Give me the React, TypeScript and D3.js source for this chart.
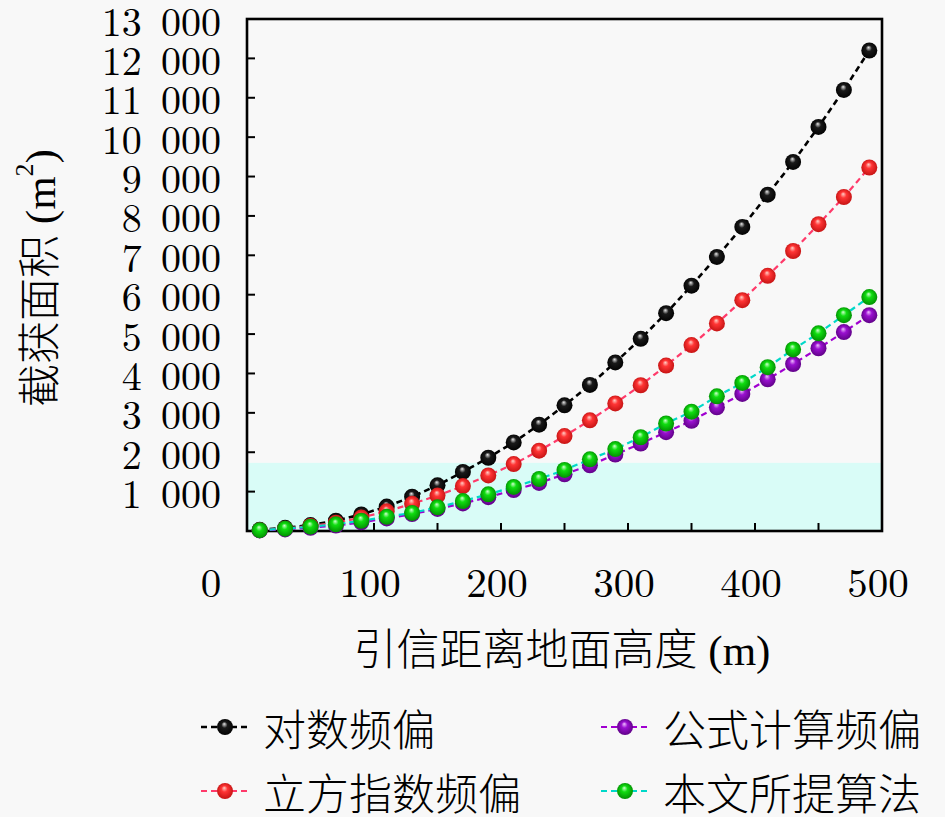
import React from "react";
import * as d3 from "d3";

const heights = [10, 30, 50, 70, 90, 110, 130, 150, 170, 190, 210, 230, 250, 270, 290, 310, 330, 350, 370, 390, 410, 430, 450, 470, 490];
const logFreq = [30, 80, 150, 260, 420, 620, 870, 1160, 1500, 1860, 2250, 2700, 3190, 3710, 4280, 4880, 5530, 6230, 6960, 7720, 8540, 9370, 10260, 11200, 12200];
const cubicFreq = [20, 60, 130, 210, 340, 500, 690, 900, 1140, 1410, 1700, 2040, 2410, 2810, 3240, 3700, 4200, 4720, 5270, 5860, 6480, 7110, 7790, 8480, 9230];
const formulaFreq = [15, 40, 80, 140, 220, 320, 430, 560, 700, 860, 1040, 1220, 1440, 1670, 1940, 2220, 2510, 2800, 3140, 3480, 3850, 4240, 4640, 5050, 5480];
const proposed = [20, 60, 110, 170, 260, 360, 460, 600, 760, 930, 1120, 1320, 1550, 1820, 2080, 2380, 2730, 3030, 3420, 3760, 4160, 4610, 5020, 5480, 5940];
const seriesNames = ["对数频偏", "立方指数频偏", "公式计算频偏", "本文所提算法"];
const xTickLabels = [0, 100, 200, 300, 400, 500];
const xMinorTicks = [50, 100, 150, 200, 250, 300, 350, 400, 450];
const yTicks = [1000, 2000, 3000, 4000, 5000, 6000, 7000, 8000, 9000, 10000, 11000, 12000, 13000];
const bandTop = 1730;

const W = 945, H = 817;
const L = 247, R = 882, T = 19, B = 531;
const serif = "'Latin Modern Roman', 'Liberation Serif', 'DejaVu Serif', serif";
const mixed = "'Liberation Serif', 'Noto Sans CJK SC', serif";
const cjk = "'Noto Sans CJK SC', sans-serif";

const styles = [
  { line: "#000000", base: "#1a1a1a", dark: "#000000", hi: "#e8e8e8", width: 2.6 },
  { line: "#ff3a6a", base: "#ff3535", dark: "#c01010", hi: "#ffd0c8", width: 2.2 },
  { line: "#a000d0", base: "#9a10d0", dark: "#5a0080", hi: "#f0c0ff", width: 2.2 },
  { line: "#00d8c8", base: "#10dd10", dark: "#008800", hi: "#d0ffd0", width: 2.2 },
];

export default function App() {
  const x = d3.scaleLinear().domain([0, 500]).range([L, R]);
  const y = d3.scaleLinear().domain([0, 13000]).range([B, T]);
  const data = [logFreq, cubicFreq, formulaFreq, proposed];
  const line = d3
    .line<number>()
    .x((_, i) => x(heights[i]))
    .y((v) => y(v));
  const fmt = (v: number) => d3.format(",")(v).replace(",", " ");
  const r = 8;

  const legendPos = [
    { lx: 200, ty: 727 },
    { lx: 200, ty: 791 },
    { lx: 600, ty: 727 },
    { lx: 600, ty: 791 },
  ];

  return (
    <div style={{ position: "fixed", left: 0, top: 0 }}>
      <svg width={W} height={H} viewBox={`0 0 ${W} ${H}`}>
        <defs>
          {styles.map((s, i) => (
            <radialGradient key={i} id={`g${i}`} cx="0.5" cy="0.5" r="0.55" fx="0.45" fy="0.3">
              <stop offset="0%" stopColor={s.hi} />
              <stop offset="35%" stopColor={s.base} />
              <stop offset="100%" stopColor={s.dark} />
            </radialGradient>
          ))}
        </defs>
        <rect x={0} y={0} width={W} height={H} fill="#f8f8f8" />
        <rect x={x(0)} y={y(bandTop)} width={x(500) - x(0)} height={y(0) - y(bandTop)} fill="#d9fcf7" />

        {yTicks.map((t) => (
          <line key={"yt" + t} x1={L} x2={L + 8} y1={y(t)} y2={y(t)} stroke="#000" strokeWidth={2} />
        ))}
        {xMinorTicks.map((t) => (
          <line key={"xt" + t} x1={x(t)} x2={x(t)} y1={B} y2={B - 8} stroke="#000" strokeWidth={2} />
        ))}
        <rect x={L} y={T} width={R - L} height={B - T} fill="none" stroke="#000" strokeWidth={2.6} />

        {yTicks.map((t) => (
          <text
            key={"yl" + t}
            x={221}
            y={y(t)}
            textAnchor="end"
            dominantBaseline="central"
            fontFamily={serif}
            fontSize={40}
            wordSpacing={6}
            fill="#000"
          >
            {fmt(t)}
          </text>
        ))}
        {xTickLabels.map((t) => (
          <text
            key={"xl" + t}
            x={t === 0 ? 211 : x(t) - 4}
            y={580}
            textAnchor="middle"
            dominantBaseline="central"
            fontFamily={serif}
            fontSize={41}
            fill="#000"
          >
            {t}
          </text>
        ))}

        <text x={562} y={650} textAnchor="middle" dominantBaseline="central" fontFamily={mixed} fontWeight={300} fontSize={43} fill="#000">
          引信距离地面高度 (m)
        </text>
        <text
          transform={`translate(40,278) rotate(-90)`}
          textAnchor="middle"
          dominantBaseline="central"
          fontFamily={mixed}
          fontWeight={300}
          fontSize={43}
          fill="#000"
        >
          截获面积 (m<tspan fontSize={26} dy={-16}>2</tspan>
          <tspan dy={16}>)</tspan>
        </text>

        {data.map((d, i) => (
          <g key={"s" + i}>
            <path d={line(d) || ""} fill="none" stroke={styles[i].line} strokeWidth={styles[i].width} strokeDasharray="6 4" />
            {d.map((v, j) => (
              <circle key={j} cx={x(heights[j])} cy={y(v)} r={r} fill={`url(#g${i})`} />
            ))}
          </g>
        ))}

        {seriesNames.map((name, i) => {
          const p = legendPos[i];
          return (
            <g key={"lg" + i}>
              <line x1={p.lx} x2={p.lx + 50} y1={p.ty} y2={p.ty} stroke={styles[i].line} strokeWidth={styles[i].width} strokeDasharray="6 4" strokeDashoffset={-1} />
              <circle cx={p.lx + 25} cy={p.ty} r={r} fill={`url(#g${i})`} />
              <text x={p.lx + 63} y={p.ty} dominantBaseline="central" fontFamily={cjk} fontWeight={300} fontSize={43} fill="#000">
                {name}
              </text>
            </g>
          );
        })}
      </svg>
    </div>
  );
}
